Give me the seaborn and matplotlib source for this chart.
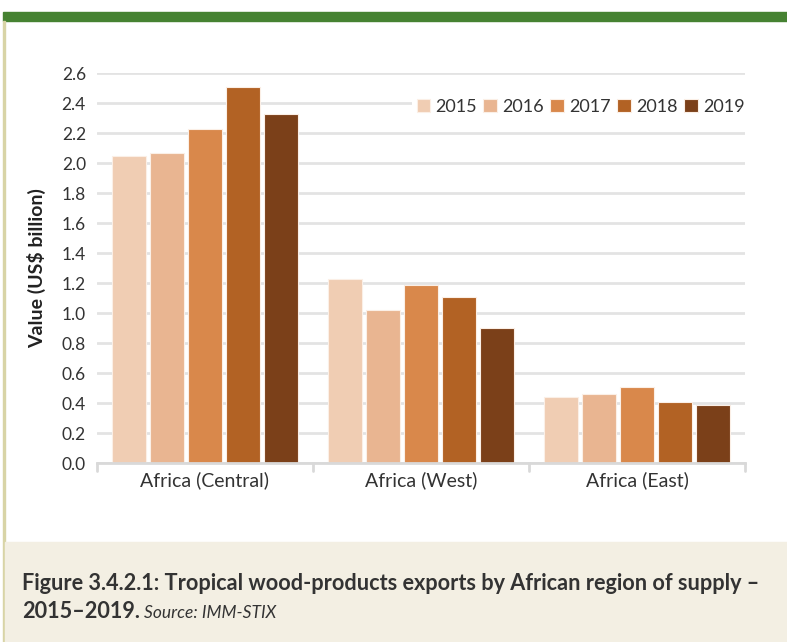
import matplotlib
matplotlib.use("Agg")
import matplotlib.pyplot as plt
import seaborn as sns
import pandas as pd
from matplotlib.patches import Rectangle

regions = ["Africa (Central)", "Africa (West)", "Africa (East)"]
years = ["2015", "2016", "2017", "2018", "2019"]
v2015 = [2.05, 1.23, 0.44]
v2016 = [2.07, 1.02, 0.46]
v2017 = [2.23, 1.19, 0.51]
v2018 = [2.51, 1.11, 0.41]
v2019 = [2.33, 0.90, 0.39]
colors = ["#f0cdb3", "#e9b591", "#d9884b", "#b26224", "#7b4019"]
yticks = [0.0, 0.2, 0.4, 0.6, 0.8, 1.0, 1.2, 1.4, 1.6, 1.8, 2.0, 2.2, 2.4, 2.6]

rows = []
for y, vals in zip(years, [v2015, v2016, v2017, v2018, v2019]):
    for r, v in zip(regions, vals):
        rows.append({"Region": r, "Year": y, "Value": v})
df = pd.DataFrame(rows)

sns.set_theme(style="white")
plt.rcParams['font.family'] = ['Lato', 'DejaVu Sans']

fig = plt.figure(figsize=(7.87, 6.42), dpi=100)
W, H = 787, 642
ax = fig.add_axes([97 / W, 1 - 463 / H, (745 - 97) / W, (463 - 73) / H])

sns.barplot(data=df, x="Region", y="Value", hue="Year", palette=colors,
            width=0.88, gap=0.12, edgecolor="#fbefe6", linewidth=0.8, ax=ax, saturation=1)

ax.set_ylim(0, 2.6)
ax.set_xlim(-0.5, 2.5)
ax.set_yticks(yticks)
ax.set_yticklabels([f"{t:.1f}" for t in yticks], fontsize=12.5, color="#333333")
ax.yaxis.grid(True, color="#e3e3e3", linewidth=2)
ax.set_axisbelow(True)
for s in ["top", "right", "left"]:
    ax.spines[s].set_visible(False)
ax.spines["bottom"].set_color("#d9d9d9")
ax.spines["bottom"].set_linewidth(2)
ax.tick_params(axis="y", length=0, pad=8)
ax.tick_params(axis="x", length=0, labelsize=14, colors="#333333", pad=6)
ax.set_xlabel("")
ax.set_ylabel("Value (US$ billion)", fontsize=14, fontweight="bold", color="#222222", labelpad=11)
# category boundary ticks
for xb in [-0.5, 0.5, 1.5, 2.5]:
    ax.plot([xb, xb], [0, -0.05], color="#d9d9d9", lw=2, clip_on=False)

leg = ax.legend(loc="upper right", ncol=5, frameon=True, fancybox=False, fontsize=13,
                handlelength=0.75, handleheight=0.75, columnspacing=0.35,
                handletextpad=0.3, bbox_to_anchor=(1.012, 0.955), borderaxespad=0.2,
                borderpad=0.25, framealpha=1)
leg.get_frame().set_facecolor("white")
leg.get_frame().set_edgecolor("none")
for t in leg.get_texts():
    t.set_color("#333333")

# decorations
fig.patches.append(Rectangle((3 / W, 1 - 21 / H), 1, 9 / H, transform=fig.transFigure,
                             color="#468232", zorder=0))
fig.patches.append(Rectangle((3 / W, 0), 1.5 / W, 1 - 21 / H, transform=fig.transFigure,
                             color="#d8d4a6", zorder=0))
fig.patches.append(Rectangle((5 / W, 0), 1, (642 - 542) / H, transform=fig.transFigure,
                             color="#f3efe3", zorder=0))

fig.text(22 / W, 1 - 583 / H, "Figure 3.4.2.1: Tropical wood-products exports by African region of supply –",
         fontsize=15.6, fontweight="bold", color="#333333", va="center")
t1 = fig.text(22 / W, 1 - 612 / H, "2015–2019.", fontsize=15.6, fontweight="bold",
              color="#333333", va="center")
fig.canvas.draw()
bb = t1.get_window_extent()
fig.text((bb.x1 + 4) / W, 1 - 613 / H, "Source: IMM-STIX", fontsize=12.5, style="italic",
         color="#333333", va="center")

fig.savefig("out.png", dpi=100)
